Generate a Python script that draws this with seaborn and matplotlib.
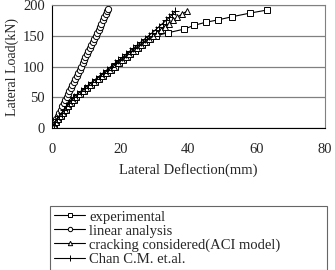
import matplotlib
matplotlib.use("Agg")
import matplotlib.pyplot as plt
import seaborn as sns
import pandas as pd

# experimental curve
exp_load = [0, 5, 10, 15, 20, 25, 30, 35, 40, 45, 50, 55, 60, 65, 70, 75, 80, 85,
            90, 95, 100, 105, 110, 115, 120, 125, 130, 135, 140, 145, 150,
            155, 161, 167, 172, 176, 181, 187, 192]
exp_defl = [0, 0.6, 1.2, 1.9, 2.6, 3.3, 4.0, 4.8, 5.6, 6.4, 7.2, 8.2, 9.3, 10.4,
            11.5, 12.7, 13.8, 15.0, 16.1, 17.3, 18.4, 19.6, 20.7, 21.9, 23.0, 24.2,
            25.3, 26.5, 27.6, 28.8, 30.4, 34.0, 38.8, 41.6, 45.0, 48.7, 52.7, 58.0, 63.0]

# linear analysis
lin_load = [0, 5, 10, 15, 20, 25, 30, 35, 40, 45, 50, 55, 60, 65, 70, 75, 80, 85,
            90, 95, 100, 105, 110, 115, 120, 125, 130, 135, 140, 145, 150, 155,
            160, 165, 170, 175, 180, 185, 190, 193]
lin_defl = [0, 0.4, 0.9, 1.3, 1.7, 2.1, 2.6, 3.0, 3.4, 3.8, 4.3, 4.7, 5.1, 5.6,
            6.0, 6.4, 6.8, 7.3, 7.7, 8.1, 8.5, 9.0, 9.4, 9.8, 10.3, 10.7, 11.1,
            11.5, 12.0, 12.4, 12.8, 13.2, 13.7, 14.1, 14.5, 15.0, 15.4, 15.8, 16.2, 16.5]

# cracking considered (ACI model)
aci_load = [0, 5, 10, 15, 20, 25, 30, 35, 40, 45, 50, 55, 60, 65, 70, 75, 80, 85,
            90, 95, 100, 105, 110, 115, 120, 125, 130, 135, 140, 145, 150, 155,
            160, 165, 170, 175, 180, 185, 190]
aci_defl = [0, 0.5, 1.1, 1.7, 2.4, 3.1, 3.8, 4.6, 5.3, 6.1, 6.9, 7.9, 9.0, 10.1,
            11.2, 12.4, 13.5, 14.7, 15.8, 17.0, 18.1, 19.3, 20.4, 21.6, 22.7, 23.9,
            25.0, 26.2, 27.3, 28.5, 29.6, 30.8, 31.9, 33.1, 34.2, 35.4, 36.6, 38.0, 39.5]

# Chan C.M. et.al.
chan_load = [0, 5, 10, 15, 20, 25, 30, 35, 40, 45, 50, 55, 60, 65, 70, 75, 80, 85,
             90, 95, 100, 105, 110, 115, 120, 125, 130, 135, 140, 145, 150, 155,
             160, 165, 170, 175, 180, 185, 190]
chan_defl = [0, 0.5, 1.0, 1.6, 2.2, 2.9, 3.5, 4.2, 4.9, 5.6, 6.4, 7.4, 8.5, 9.6,
             10.7, 11.8, 12.9, 14.0, 15.1, 16.2, 17.3, 18.4, 19.5, 20.6, 21.7, 22.8,
             23.9, 25.0, 26.1, 27.2, 28.3, 29.4, 30.4, 31.4, 32.4, 33.4, 34.4, 35.3, 36.2]

series = [
    ("experimental", exp_defl, exp_load, "s"),
    ("linear analysis", lin_defl, lin_load, "o"),
    ("cracking considered(ACI model)", aci_defl, aci_load, "^"),
    ("Chan C.M. et.al.", chan_defl, chan_load, "+"),
]

sns.set_style("white")
plt.rcParams["font.family"] = ["Liberation Serif", "DejaVu Serif"]

fig = plt.figure(figsize=(3.35, 2.7), dpi=100)
ax = fig.add_axes([0.155, 0.526, 0.815, 0.455])

for name, x, y, m in series:
    df = pd.DataFrame({"x": x, "y": y})
    sns.lineplot(data=df, x="x", y="y", ax=ax, sort=False, color="black",
                 linewidth=0.8, marker=m, markersize=4.5 if m != "+" else 6,
                 markerfacecolor="white", markeredgecolor="black",
                 markeredgewidth=0.7, label=name, legend=False)

ax.set_xlim(0, 80)
ax.set_ylim(0, 200)
ax.set_xticks([0, 20, 40, 60, 80])
ax.set_yticks([0, 50, 100, 150, 200])
ax.yaxis.grid(True, color="#808080", linewidth=0.9)
ax.xaxis.grid(False)
for s in ["left", "bottom"]:
    ax.spines[s].set_color("black")
    ax.spines[s].set_linewidth(0.8)
for s in ["top", "right"]:
    ax.spines[s].set_color("#808080")
    ax.spines[s].set_linewidth(0.8)
ax.tick_params(axis="both", direction="out", length=3, width=0.8, labelsize=10.5,
               color="black", pad=2)
ax.tick_params(axis="x", pad=8)
ax.set_xlabel("Lateral Deflection(mm)", fontsize=10.5, labelpad=5)
ax.set_ylabel("Lateral Load(kN)", fontsize=10, labelpad=3)

handles, labels = ax.get_legend_handles_labels()
leg = fig.legend(handles, labels, loc="upper left",
                 bbox_to_anchor=(0.149, 0.0, 0.827, 0.237), mode="expand",
                 fontsize=10.5, frameon=True, fancybox=False, handlelength=2.1,
                 handletextpad=0.3, labelspacing=0.05, borderpad=0.3,
                 borderaxespad=0.0, markerscale=0.7)
leg.get_frame().set_edgecolor("#404040")
leg.get_frame().set_linewidth(0.8)

fig.savefig("out.png", dpi=100)
